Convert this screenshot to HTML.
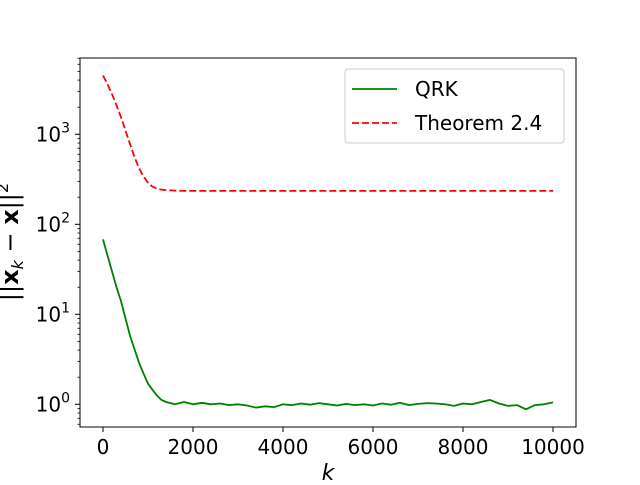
<!DOCTYPE html>
<html><head><meta charset="utf-8"><style>body{margin:0;background:#fff}svg{font-family:"DejaVu Sans","Liberation Sans",sans-serif}</style></head>
<body>
<svg id="c" width="640" height="480"></svg>
<script>
const kVals=[0,100,200,300,400,500,600,700,800,900,1000,1100,1200,1300,1400,1600,1800,2000,2200,2400,2600,2800,3000,3200,3400,3600,3800,4000,4200,4400,4600,4800,5000,5200,5400,5600,5800,6000,6200,6400,6600,6800,7000,7200,7400,7600,7800,8000,8200,8400,8600,8800,9000,9200,9400,9600,9800,10000];
const qrkVals=[68,45,30,20,14,9,5.8,4.1,2.9,2.2,1.7,1.45,1.25,1.12,1.06,1.0,1.06,1.0,1.04,1.0,1.02,0.98,1.0,0.97,0.92,0.95,0.93,1.0,0.98,1.02,0.99,1.03,1.0,0.97,1.01,0.98,1.0,0.97,1.02,0.99,1.04,0.98,1.01,1.03,1.02,1.0,0.96,1.02,1.0,1.06,1.12,1.02,0.96,0.98,0.88,0.98,1.0,1.05];
const thmVals=[4500,3600,2800,2100,1550,1100,780,560,420,340,290,262,250,243,240,237,235,235,235,235,235,235,235,235,235,235,235,235,235,235,235,235,235,235,235,235,235,235,235,235,235,235,235,235,235,235,235,235,235,235,235,235,235,235,235,235,235,235];
const xTicks=[0,2000,4000,6000,8000,10000];
const yTicks=[0,1,2,3];
const NS='http://www.w3.org/2000/svg',svg=document.getElementById('c');
const L=80,R=576,T=58,B=427;
const xs=v=>103+v*0.045, ys=v=>404.3-90*Math.log10(v);
function el(t,a,p){const e=document.createElementNS(NS,t);for(const k in a)e.setAttribute(k,a[k]);(p||svg).appendChild(e);return e;}
const ax=el('rect',{x:L,y:T,width:R-L,height:B-T,fill:'none',stroke:'#000','stroke-width':1});


xTicks.forEach(v=>{const x=xs(v);el('line',{x1:x,x2:x,y1:B,y2:B+5,stroke:'#000'});
const t=el('text',{x:x,y:B+27,'font-size':20,'text-anchor':'middle'});t.textContent=v;

});
yTicks.forEach(p=>{const y=ys(Math.pow(10,p));el('line',{x1:L-5,x2:L,y1:y,y2:y,stroke:'#000'});
const t=el('text',{x:L-10,y:y+7,'font-size':20,'text-anchor':'end'});t.innerHTML='10<tspan dy="-9" font-size="14">'+p+'</tspan>';

});
for(let p=-1;p<4;p++)for(let m=2;m<10;m++){const v=m*Math.pow(10,p);const y=ys(v);if(y<T||y>B)continue;el('line',{x1:L-2.5,x2:L,y1:y,y2:y,stroke:'#000','stroke-width':0.8});}
function line(vals,attrs,name){const d=kVals.map((k,i)=>(i?'L':'M')+xs(k).toFixed(1)+' '+ys(vals[i]).toFixed(1)).join(' ');
const p=el('path',Object.assign({d:d,fill:'none','stroke-linejoin':'round'},attrs));

}
line(qrkVals,{stroke:'#008000','stroke-width':1.8},'qrk-line');
line(thmVals,{stroke:'#ff0000','stroke-width':1.8,'stroke-dasharray':'7,3'},'theorem-line');
const lg=el('g',{});


el('rect',{x:345,y:69,width:219,height:74,rx:3,fill:'#fff',stroke:'#ccc'},lg);
el('line',{x1:352,x2:397,y1:89,y2:89,stroke:'#008000','stroke-width':1.8},lg);
el('line',{x1:352,x2:397,y1:123,y2:123,stroke:'#ff0000','stroke-width':1.8,'stroke-dasharray':'7,3'},lg);
let t=el('text',{x:415,y:96,'font-size':20},lg);t.textContent='QRK';
t=el('text',{x:415,y:130,'font-size':20},lg);t.textContent='Theorem 2.4';
t=el('text',{x:328,y:480,'font-size':22,'font-style':'italic','text-anchor':'middle'});t.textContent='k';


t=el('text',{x:0,y:0,'font-size':24,'text-anchor':'middle',transform:'translate(18,242) rotate(-90)'});
t.innerHTML='||<tspan font-weight="bold">x</tspan><tspan dy="5" font-size="16" font-style="italic">k</tspan><tspan dy="-5"> − </tspan><tspan font-weight="bold">x</tspan>||<tspan dy="-10" font-size="16">2</tspan>';


</script>
</body></html>
